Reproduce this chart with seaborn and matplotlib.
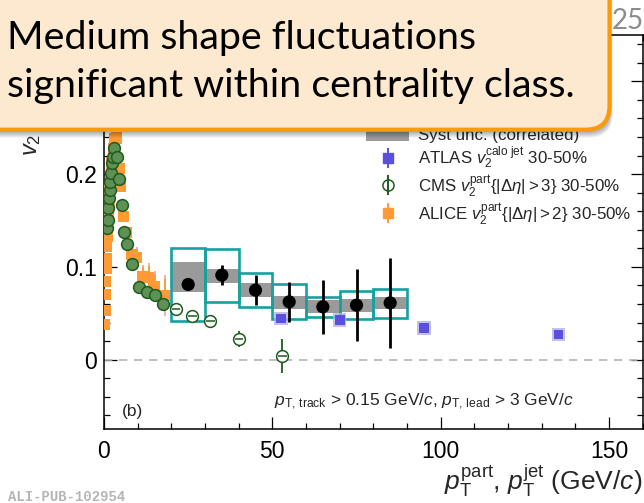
import matplotlib
matplotlib.use("Agg")
import matplotlib.pyplot as plt
import numpy as np
import pandas as pd
import seaborn as sns
from matplotlib.patches import Rectangle, FancyBboxPatch
from matplotlib.lines import Line2D
from matplotlib.legend_handler import HandlerTuple
from matplotlib.ticker import MultipleLocator, FixedLocator, FuncFormatter
from matplotlib.transforms import IdentityTransform

# ALICE charged-jet v2, 30-50 %
jet_pt = [25, 35, 45, 55, 65, 75, 85]
jet_bin_lo = [20, 30, 40, 50, 60, 70, 80]
jet_bin_hi = [30, 40, 50, 60, 70, 80, 90]
jet_v2 = [0.0811, 0.0912, 0.0750, 0.0624, 0.0570, 0.0588, 0.0613]
jet_stat = [0.005, 0.0108, 0.0162, 0.0213, 0.0288, 0.0385, 0.0486]
jet_corr_lo = [0.0732, 0.0829, 0.0678, 0.0545, 0.0499, 0.0516, 0.0542]
jet_corr_hi = [0.1049, 0.0973, 0.0822, 0.0688, 0.0642, 0.0650, 0.0678]
jet_shape_lo = [0.0419, 0.0617, 0.0570, 0.0434, 0.0462, 0.0434, 0.0455]
jet_shape_hi = [0.1200, 0.1189, 0.0930, 0.0811, 0.0678, 0.0739, 0.0758]

# ATLAS calorimeter-jet v2, 30-50 %
atlas_pt = [52.5, 70.0, 95.0, 135.0]
atlas_v2 = [0.0445, 0.0426, 0.0343, 0.0272]
atlas_err = [0.002, 0.002, 0.002, 0.004]

# CMS charged-particle v2{|d eta|>3}, 30-50 %
cms_pt = [0.9, 1.1, 1.3, 1.5, 1.7, 1.9, 2.1, 2.3, 2.6, 3.0, 3.8, 4.45, 5.25,
          5.94, 6.9, 8.2, 10.5, 12.9, 15.1, 17.4, 21.4, 26.2, 31.6, 40.1, 53.0]
cms_v2 = [0.142, 0.1505, 0.1635, 0.1743, 0.1829, 0.1919, 0.2013, 0.2117, 0.2188,
          0.228, 0.2188, 0.1945, 0.1667, 0.1379, 0.1246, 0.103, 0.0779, 0.0732,
          0.0696, 0.0599, 0.0542, 0.0469, 0.0419, 0.0227, 0.0041]
cms_err = [0.001, 0.001, 0.001, 0.001, 0.001, 0.001, 0.001, 0.001, 0.001,
           0.001, 0.001, 0.001, 0.001, 0.001, 0.001, 0.002, 0.002, 0.002,
           0.003, 0.003, 0.003, 0.004, 0.005, 0.0086, 0.018]

# ALICE charged-particle v2{|d eta|>2}, 30-50 %
alice_pt = [0.25, 0.35, 0.45, 0.55, 0.65, 0.75, 0.85, 0.95, 1.1, 1.3, 1.5, 1.7,
            1.9, 2.25, 2.75, 3.25, 3.75, 4.5, 5.0, 5.75, 6.75, 8.2, 9.7, 11.5,
            13.3, 15.1, 18.1]
alice_v2 = [0.038, 0.053, 0.070, 0.084, 0.098, 0.109, 0.122, 0.133, 0.145,
            0.158, 0.171, 0.183, 0.195, 0.212, 0.228, 0.238, 0.239, 0.206,
            0.1865, 0.154, 0.137, 0.113, 0.110, 0.0894, 0.0885, 0.0786, 0.0696]
alice_err = [0.001, 0.001, 0.001, 0.001, 0.001, 0.001, 0.001, 0.001, 0.001,
             0.001, 0.001, 0.001, 0.001, 0.002, 0.002, 0.002, 0.003, 0.003,
             0.004, 0.004, 0.005, 0.007, 0.009, 0.010, 0.012, 0.013, 0.017]

legend_labels = [
    r"ALICE $v_2^{\mathrm{ch\ jet}}$ 30-50%",
    "Syst unc. (shape)",
    "Syst unc. (correlated)",
    r"ATLAS $v_2^{\mathrm{calo\ jet}}$ 30-50%",
    r"CMS $v_2^{\mathrm{part}}\{|\Delta\eta|>3\}$ 30-50%",
    r"ALICE $v_2^{\mathrm{part}}\{|\Delta\eta|>2\}$ 30-50%",
]

callout_lines = ["Medium shape fluctuations", "significant within centrality class."]

C_TEAL = "#17a0a0"
C_GRAY = "#9a9a9a"
C_BLUE = "#5b50dc"
C_LAV = "#b6b1ea"
C_GREEN_EDGE = "#1f5a1f"
C_GREEN_FILL = "#5f9155"
C_ORANGE = "#ff9a36"
C_PINK = "#f4a6a6"

sns.set_theme(style="ticks")
plt.rcParams["font.family"] = ["Liberation Sans", "DejaVu Sans"]
plt.rcParams["mathtext.fontset"] = "custom"
plt.rcParams["mathtext.rm"] = "Liberation Sans"
plt.rcParams["mathtext.it"] = "Liberation Sans:italic"
plt.rcParams["mathtext.bf"] = "Liberation Sans:bold"
plt.rcParams["axes.linewidth"] = 1.1

W, H = 644, 503
fig = plt.figure(figsize=(W / 100, H / 100), dpi=100)
ax = fig.add_axes([104 / W, (H - 429.3) / H, (642.7 - 104) / W, (429.3 - 35) / H])

ax.axhline(0, color="#b4b4b4", lw=1.2, ls=(0, (5, 4)), zorder=1)

# correlated systematic (filled gray) and shape systematic (open teal) boxes
for lo, hi, ylo, yhi in zip(jet_bin_lo, jet_bin_hi, jet_corr_lo, jet_corr_hi):
    ax.add_patch(Rectangle((lo, ylo), hi - lo, yhi - ylo, facecolor=C_GRAY,
                           edgecolor="none", zorder=2))
for lo, hi, ylo, yhi in zip(jet_bin_lo, jet_bin_hi, jet_shape_lo, jet_shape_hi):
    ax.add_patch(Rectangle((lo, ylo), hi - lo, yhi - ylo, facecolor="none",
                           edgecolor=C_TEAL, lw=1.9, zorder=3))

# ALICE particles
alice = pd.DataFrame({"pt": alice_pt, "v2": alice_v2})
ax.errorbar(alice_pt, alice_v2, yerr=np.array(alice_err) * 1.3, fmt="none",
            ecolor=C_PINK, elinewidth=1.3, zorder=4)
ax.errorbar(alice_pt, alice_v2, yerr=alice_err, fmt="none", ecolor=C_ORANGE,
            elinewidth=1.3, zorder=4.2)
sns.scatterplot(data=alice, x="pt", y="v2", ax=ax, marker="s", s=64,
                color=C_ORANGE, edgecolor="none", legend=False, zorder=5)

# CMS particles: filled at low pT, open at high pT
cms = pd.DataFrame({"pt": cms_pt, "v2": cms_v2, "err": cms_err})
cms_low = cms[cms.pt < 20]
cms_high = cms[cms.pt >= 20]
ax.errorbar(cms.pt, cms.v2, yerr=cms.err, fmt="none", ecolor=C_GREEN_EDGE,
            elinewidth=1.3, zorder=6)
sns.scatterplot(data=cms_low, x="pt", y="v2", ax=ax, marker="o", s=72,
                color=C_GREEN_FILL, edgecolor=C_GREEN_EDGE, linewidth=1.1,
                legend=False, zorder=7)
sns.scatterplot(data=cms_high, x="pt", y="v2", ax=ax, marker="o", s=72,
                color="white", edgecolor=C_GREEN_EDGE, linewidth=1.1,
                legend=False, zorder=7)
ax.errorbar(cms_high.pt, cms_high.v2, xerr=1.3, fmt="none", ecolor=C_GREEN_EDGE,
            elinewidth=1.1, zorder=7.5)

# ATLAS jets
atlas = pd.DataFrame({"pt": atlas_pt, "v2": atlas_v2})
sns.scatterplot(data=atlas, x="pt", y="v2", ax=ax, marker="s", s=95,
                color=C_LAV, edgecolor="none", alpha=0.8, legend=False, zorder=6)
ax.errorbar(atlas_pt, atlas_v2, yerr=atlas_err, fmt="none", ecolor=C_BLUE,
            elinewidth=1.3, zorder=6.5)
sns.scatterplot(data=atlas, x="pt", y="v2", ax=ax, marker="s", s=50,
                color=C_BLUE, edgecolor="none", legend=False, zorder=7)

# ALICE charged jets
jets = pd.DataFrame({"pt": jet_pt, "v2": jet_v2})
ax.errorbar(jet_pt, jet_v2, yerr=jet_stat, fmt="none", ecolor="black",
            elinewidth=2.0, zorder=8)
sns.scatterplot(data=jets, x="pt", y="v2", ax=ax, marker="o", s=90,
                color="black", edgecolor="none", legend=False, zorder=9)

ax.set_xlim(0, 160)
ax.set_ylim(-0.075, 0.35)
ax.xaxis.set_major_locator(FixedLocator([0, 50, 100, 150]))
ax.xaxis.set_minor_locator(MultipleLocator(10))
ax.yaxis.set_major_locator(FixedLocator([0, 0.1, 0.2, 0.3]))
ax.yaxis.set_minor_locator(MultipleLocator(0.02))
ax.yaxis.set_major_formatter(FuncFormatter(lambda v, p: f"{v:g}"))
ax.tick_params(which="both", direction="in", top=True, right=True,
               width=0.9, colors="black", labelsize=16.5)
ax.tick_params(which="major", length=9)
ax.tick_params(which="minor", length=4.5)
ax.tick_params(axis="x", pad=8)
ax.tick_params(axis="y", pad=5)
ax.set_xlabel("")
ax.set_ylabel("")
for s in ax.spines.values():
    s.set_color("black")

# legend
def bar(color):
    return Line2D([], [], marker="|", ls="none", color=color, ms=14, mew=1.4)

handles = [
    (bar("black"), Line2D([], [], marker="o", ls="none", color="black", ms=9)),
    Rectangle((0, 0), 1, 1, facecolor="none", edgecolor=C_TEAL, lw=1.9),
    Rectangle((0, 0), 1, 1, facecolor=C_GRAY, edgecolor="none"),
    (bar(C_BLUE), Line2D([], [], marker="s", ls="none", color=C_BLUE, ms=7)),
    (Line2D([], [], marker="o", ls="none", mfc="white", mec=C_GREEN_EDGE, ms=8, mew=1.1),
     bar(C_GREEN_EDGE)),
    (bar(C_ORANGE), Line2D([], [], marker="s", ls="none", color=C_ORANGE, ms=7)),
]
leg = ax.legend(handles, legend_labels,
                handler_map={tuple: HandlerTuple(ndivide=1, pad=0)},
                loc="lower left", bbox_to_anchor=(366 / W, (H - 227) / H),
                bbox_transform=fig.transFigure, frameon=False, fontsize=12.2,
                handlelength=2.55, handleheight=0.9, handletextpad=0.5,
                borderpad=0, borderaxespad=0, labelspacing=0.12)
leg.set_zorder(10)

# figure texts
fig.text(37 / W, 1 - 156 / H, r"$v_{2}$",
         rotation=90, rotation_mode="anchor", ha="left", va="baseline", fontsize=17)
fig.text(642 / W, 1 - 490 / H,
         r"$p_{\mathrm{T}}^{\mathrm{part}}$, $p_{\mathrm{T}}^{\mathrm{jet}}$ (GeV/$c$)",
         ha="right", va="baseline", fontsize=19)
fig.text(274 / W, 1 - 406 / H,
         r"$p_{\mathrm{T,\,track}}$ > 0.15 GeV/$c$, $p_{\mathrm{T,\,lead}}$ > 3 GeV/$c$",
         ha="left", va="baseline", fontsize=12.5)
fig.text(122 / W, 1 - 411.7 / H, "(b)", ha="left", va="center", fontsize=12.5)
fig.text(8 / W, 1 - 501 / H, "ALI-PUB-102954", family="Liberation Mono",
         weight="bold", color="#b5b5b5", fontsize=10, va="baseline")
fig.text(611.7 / W, 1 - 29.3 / H, "25", family="Lato", color="#8c8c8c",
         fontsize=20, va="baseline", ha="left")

# callout box with soft drop shadow
px = IdentityTransform()
bx0, bx1, by0 = -60, 609.5, H - 129.7
for k in range(1, 9):
    fig.add_artist(FancyBboxPatch((bx0 + 0.4 * k, by0 - k), bx1 - bx0, 300,
                                  boxstyle="round,pad=0,rounding_size=24",
                                  transform=px, facecolor="black", edgecolor="none",
                                  alpha=0.055, zorder=19))
fig.add_artist(FancyBboxPatch((bx0, by0), bx1 - bx0, 300,
                              boxstyle="round,pad=0,rounding_size=24", transform=px,
                              facecolor="#fde9cf", edgecolor="#fb9a0a", lw=3.0,
                              zorder=20))
fig.text(7.4 / W, 1 - 49 / H, callout_lines[0], family="Lato", fontsize=28.4,
         ha="left", va="baseline", color="black", zorder=21)
fig.text(7.4 / W, 1 - 96.5 / H, callout_lines[1], family="Lato", fontsize=28.4,
         ha="left", va="baseline", color="black", zorder=21)

fig.savefig("out.png", dpi=100)
